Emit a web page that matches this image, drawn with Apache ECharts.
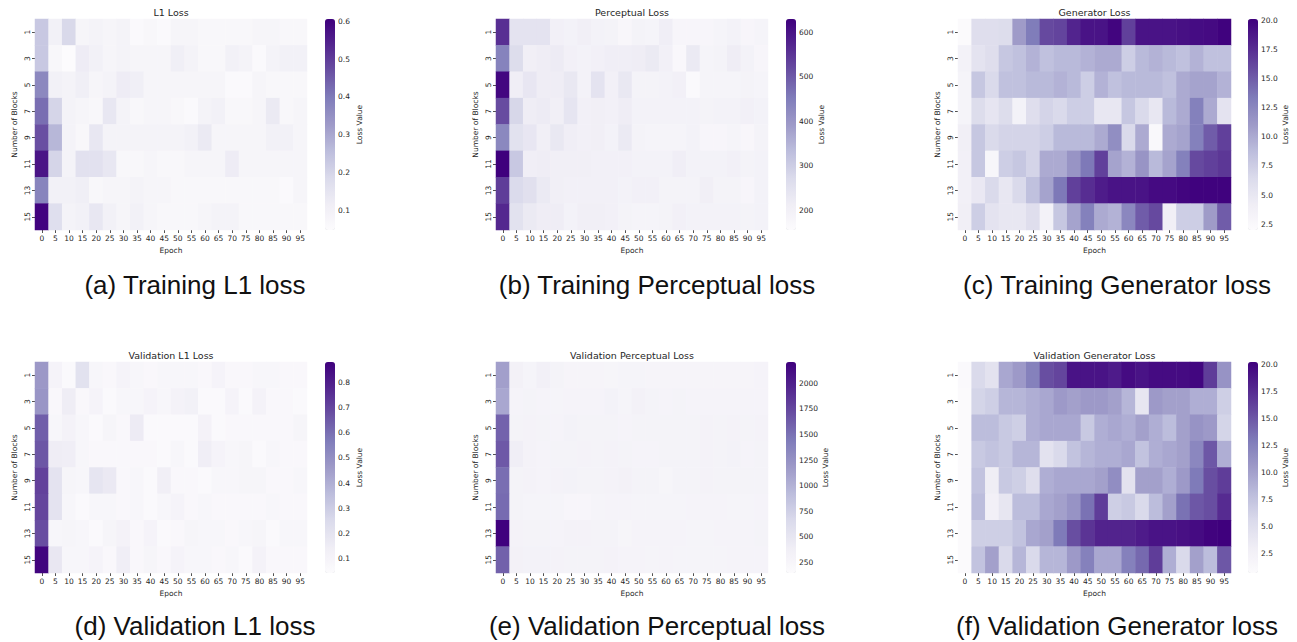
<!DOCTYPE html>
<html>
<head>
<meta charset="utf-8">
<script src="https://cdn.jsdelivr.net/npm/echarts@6/dist/echarts.min.js"></script>
<style>
html,body{margin:0;padding:0;background:#fff;}
#chart{width:1297px;height:642px;}
</style>
</head>
<body>
<div id="chart"></div>
<script>
// ---------------- DATA ----------------
const epochs = ['0','5','10','15','20','25','30','35','40','45','50','55','60','65','70','75','80','85','90','95'];
const blocks = ['1','3','5','7','9','11','13','15'];

const trainL1 = [
 [0.23,0.10,0.19,0.08,0.09,0.08,0.09,0.06,0.07,0.06,0.08,0.08,0.07,0.07,0.07,0.07,0.08,0.08,0.07,0.07],
 [0.23,0.07,0.05,0.12,0.10,0.08,0.09,0.08,0.08,0.08,0.11,0.09,0.07,0.07,0.10,0.09,0.06,0.09,0.10,0.10],
 [0.37,0.10,0.09,0.11,0.08,0.09,0.12,0.11,0.08,0.08,0.08,0.08,0.08,0.08,0.06,0.06,0.08,0.07,0.07,0.07],
 [0.42,0.20,0.09,0.08,0.07,0.14,0.09,0.07,0.08,0.08,0.07,0.06,0.09,0.10,0.07,0.07,0.08,0.13,0.07,0.08],
 [0.47,0.27,0.09,0.07,0.14,0.09,0.09,0.09,0.09,0.09,0.09,0.10,0.13,0.08,0.08,0.08,0.08,0.10,0.10,0.08],
 [0.57,0.20,0.09,0.16,0.16,0.14,0.07,0.07,0.08,0.07,0.07,0.08,0.08,0.08,0.12,0.08,0.08,0.08,0.08,0.08],
 [0.38,0.10,0.10,0.11,0.07,0.08,0.08,0.09,0.08,0.08,0.07,0.07,0.07,0.07,0.07,0.07,0.07,0.07,0.06,0.08],
 [0.60,0.17,0.09,0.10,0.14,0.10,0.08,0.10,0.08,0.07,0.07,0.07,0.08,0.09,0.09,0.07,0.07,0.07,0.07,0.07]
];
const trainPerc = [
 [560,245,245,245,200,195,205,195,190,175,190,185,210,180,180,180,185,195,180,185],
 [440,265,205,215,220,200,195,200,210,210,215,225,200,170,225,185,190,215,195,180],
 [620,210,235,215,215,230,195,245,200,230,190,190,195,200,165,185,185,185,190,185],
 [520,280,215,220,205,240,200,205,200,215,195,195,195,195,195,190,195,195,200,195],
 [430,250,235,205,230,210,200,205,195,225,190,185,185,185,195,180,180,185,175,190],
 [630,310,210,215,205,205,205,200,200,200,195,195,195,210,195,195,195,200,190,195],
 [540,270,255,225,205,200,200,200,200,195,200,200,190,190,190,205,190,190,180,195],
 [570,250,225,215,215,195,205,205,200,190,185,185,190,200,195,195,195,195,190,195]
];
const trainGen = [
 [2.2,6.0,6.0,6.2,11.0,13.3,16.0,16.3,18.0,19.0,19.0,19.8,16.5,19.0,19.0,19.0,19.2,19.4,19.5,20.0],
 [3.5,5.5,6.0,8.0,8.5,9.5,8.5,9.0,9.0,9.5,10.0,10.0,7.5,9.0,9.5,9.0,8.5,9.5,8.5,8.5],
 [3.2,8.0,6.5,8.5,8.5,9.0,9.0,9.5,9.0,7.5,9.5,8.5,9.0,9.0,9.0,8.5,10.0,10.5,10.5,9.5],
 [3.2,6.2,5.2,6.2,3.5,6.0,7.0,6.5,7.5,7.5,5.0,5.0,8.0,6.5,5.0,9.0,10.0,13.0,10.0,5.5],
 [4.0,8.0,6.5,7.0,7.0,7.0,7.5,9.0,9.0,9.0,10.0,12.0,6.5,10.0,2.5,10.0,10.5,13.0,15.0,16.5],
 [3.8,8.0,2.8,7.5,8.0,7.0,10.0,10.0,11.5,13.5,16.5,10.5,9.5,11.5,9.0,10.5,13.0,16.0,16.5,17.0],
 [3.8,4.8,6.5,5.0,6.5,8.5,10.5,13.5,16.5,17.5,18.5,19.0,19.0,19.0,19.5,19.5,19.8,20.0,20.0,20.0],
 [4.0,7.5,5.5,5.0,5.0,6.0,3.5,8.0,10.5,13.0,10.0,9.5,12.5,15.0,16.0,4.0,7.5,7.5,11.0,15.0]
];
const valL1 = [
 [0.47,0.10,0.06,0.21,0.08,0.07,0.10,0.08,0.07,0.08,0.08,0.08,0.07,0.10,0.07,0.07,0.08,0.08,0.07,0.07],
 [0.48,0.07,0.15,0.07,0.10,0.06,0.08,0.08,0.10,0.08,0.11,0.12,0.06,0.06,0.10,0.06,0.11,0.07,0.07,0.06],
 [0.64,0.08,0.11,0.08,0.06,0.09,0.07,0.16,0.06,0.06,0.06,0.06,0.11,0.06,0.07,0.07,0.07,0.07,0.07,0.09],
 [0.66,0.15,0.14,0.08,0.07,0.07,0.07,0.07,0.07,0.06,0.08,0.06,0.14,0.10,0.08,0.09,0.06,0.08,0.07,0.07],
 [0.71,0.20,0.09,0.08,0.19,0.17,0.07,0.08,0.06,0.13,0.07,0.07,0.06,0.08,0.08,0.09,0.09,0.07,0.07,0.08],
 [0.70,0.20,0.08,0.06,0.08,0.08,0.07,0.08,0.06,0.08,0.10,0.07,0.08,0.07,0.07,0.07,0.07,0.08,0.07,0.07],
 [0.68,0.08,0.09,0.08,0.06,0.09,0.11,0.07,0.10,0.06,0.07,0.09,0.08,0.08,0.07,0.08,0.09,0.06,0.08,0.08],
 [0.87,0.18,0.08,0.08,0.10,0.07,0.14,0.07,0.09,0.07,0.10,0.08,0.08,0.07,0.08,0.06,0.11,0.07,0.07,0.07]
];
const valPerc = [
 [1140,330,280,350,300,270,270,270,260,280,280,270,270,270,270,270,270,270,270,290],
 [1080,290,300,290,280,290,290,290,320,280,330,300,290,300,290,290,290,290,290,290],
 [1590,300,310,300,290,320,300,300,300,290,300,300,300,300,300,310,300,310,300,310],
 [1650,380,310,290,300,300,310,300,310,300,290,290,300,300,300,310,300,320,290,300],
 [1520,300,310,290,310,320,300,300,310,330,300,300,260,300,300,310,300,300,300,300],
 [1540,300,280,280,280,250,250,280,290,290,280,280,280,280,290,290,290,280,280,290],
 [2200,310,300,300,290,310,310,300,300,260,290,290,290,290,280,280,290,290,290,300],
 [1600,330,320,320,310,300,300,300,310,290,290,280,290,280,280,280,280,290,290,290]
];
const valGen = [
 [1.0,5.5,4.5,9.5,10.5,12.5,15.5,16.0,19.0,19.0,19.0,18.5,19.5,19.0,19.5,19.5,19.5,19.8,16.5,11.0],
 [0.9,6.0,6.5,8.5,8.5,9.0,9.5,10.5,10.0,10.5,10.5,10.0,8.5,4.0,10.5,10.0,10.0,9.0,9.0,6.5],
 [0.9,8.0,8.0,7.0,6.5,9.0,9.5,9.5,9.5,7.0,9.0,9.5,9.0,10.0,9.0,8.0,10.0,11.0,10.5,6.0],
 [0.9,7.0,7.5,7.0,8.5,8.5,4.5,5.5,7.5,8.5,9.0,9.0,9.5,7.5,9.0,9.5,10.0,12.0,15.0,9.0],
 [0.9,7.5,3.0,7.0,6.5,5.0,9.0,9.5,9.5,9.5,10.0,11.5,4.5,10.0,10.0,9.0,10.5,13.0,15.5,16.5],
 [0.9,8.0,2.5,4.0,8.0,8.0,9.5,10.0,11.0,13.5,16.5,6.5,7.0,5.5,8.0,10.0,13.5,15.0,15.5,17.5],
 [0.9,6.5,6.5,6.5,7.5,9.5,10.0,13.0,15.5,17.0,18.0,18.0,18.0,18.5,19.0,19.0,19.2,19.5,20.0,20.2],
 [0.9,7.5,10.0,5.5,8.5,5.5,8.5,8.5,10.5,12.5,9.5,9.5,12.5,14.0,16.5,9.0,5.5,10.0,8.0,15.0]
];

// colour-scale ranges (vmin, vmax)
const trainL1Range = [0.048, 0.606];
const trainPercRange = [155, 630];
const trainGenRange = [2.0, 20.1];
const valL1Range = [0.043, 0.88];
const valPercRange = [146, 2208];
const valGenRange = [0.65, 20.2];

// colour-bar tick labels
const trainL1Ticks = [0.1, 0.2, 0.3, 0.4, 0.5, 0.6];
const trainPercTicks = [200, 300, 400, 500, 600];
const trainGenTicks = [2.5, 5.0, 7.5, 10.0, 12.5, 15.0, 17.5, 20.0];
const valL1Ticks = [0.1, 0.2, 0.3, 0.4, 0.5, 0.6, 0.7, 0.8];
const valPercTicks = [250, 500, 750, 1000, 1250, 1500, 1750, 2000];
const valGenTicks = [2.5, 5.0, 7.5, 10.0, 12.5, 15.0, 17.5, 20.0];

const panelTitles = ['L1 Loss','Perceptual Loss','Generator Loss','Validation L1 Loss','Validation Perceptual Loss','Validation Generator Loss'];
const captions = ['(a) Training L1 loss','(b) Training Perceptual loss','(c) Training Generator loss','(d) Validation L1 loss','(e) Validation Perceptual loss','(f) Validation Generator loss'];

// ---------------- LAYOUT ----------------
const purples = ['#fcfbfd','#efedf5','#dadaeb','#bcbddc','#9e9ac8','#807dba','#6a51a3','#54278f','#3f007d'];
const panels = [
  {data: trainL1, range: trainL1Range, ticks: trainL1Ticks, dec: 1},
  {data: trainPerc, range: trainPercRange, ticks: trainPercTicks, dec: 0},
  {data: trainGen, range: trainGenRange, ticks: trainGenTicks, dec: 1},
  {data: valL1, range: valL1Range, ticks: valL1Ticks, dec: 1},
  {data: valPerc, range: valPercRange, ticks: valPercTicks, dec: 0},
  {data: valGen, range: valGenRange, ticks: valGenTicks, dec: 1}
];
const gridLefts = [35, 496, 958];
const gridWidths = [272, 272, 273];
const cbLefts = [325, 786, 1248];
const rowTops = [19, 362];
const H = 211;
const captionY = [285, 626];
const captionX = [195, 657, 1117];

const FONT = 'DejaVu Sans';
const TXT = '#262626';

const grid = [], xAxis = [], yAxis = [], series = [], visualMap = [], graphic = [];

panels.forEach((p, i) => {
  const col = i % 3, row = Math.floor(i / 3);
  const gl = gridLefts[col], gw = gridWidths[col], gt = rowTops[row];
  grid.push({left: gl, top: gt, width: gw, height: H, containLabel: false});
  xAxis.push({
    type: 'category', gridIndex: 2 * i, data: epochs,
    name: 'Epoch', nameLocation: 'middle', nameGap: 16,
    nameTextStyle: {fontFamily: FONT, fontSize: 7.5, color: TXT},
    axisLine: {show: false}, splitLine: {show: false}, splitArea: {show: false},
    axisTick: {show: true, alignWithLabel: true, length: 3, lineStyle: {color: TXT, width: 0.8}},
    axisLabel: {interval: 0, fontFamily: FONT, fontSize: 7.5, color: TXT, margin: 4}
  });
  yAxis.push({
    type: 'category', gridIndex: 2 * i, data: blocks, inverse: true,
    name: 'Number of Blocks', nameLocation: 'middle', nameGap: 17,
    nameTextStyle: {fontFamily: FONT, fontSize: 7.5, color: TXT},
    axisLine: {show: false}, splitLine: {show: false}, splitArea: {show: false},
    axisTick: {show: true, alignWithLabel: true, length: 3, lineStyle: {color: TXT, width: 0.8}},
    axisLabel: {interval: 0, rotate: 90, fontFamily: FONT, fontSize: 7.5, color: TXT, margin: 4}
  });
  grid.push({left: cbLefts[col], top: gt, width: 10, height: H, containLabel: false});
  xAxis.push({type: 'value', gridIndex: 2 * i + 1, show: false, min: 0, max: 1});
  yAxis.push({
    type: 'value', gridIndex: 2 * i + 1, position: 'right',
    min: p.range[0], max: p.range[1],
    name: 'Loss Value', nameLocation: 'middle', nameGap: 20, nameRotate: 90,
    nameTextStyle: {fontFamily: FONT, fontSize: 7.5, color: TXT},
    axisLine: {show: false}, splitLine: {show: false},
    axisTick: {show: true, inside: false, length: 3, customValues: p.ticks, lineStyle: {color: TXT, width: 0.8}},
    axisLabel: {show: true, customValues: p.ticks, fontFamily: FONT, fontSize: 7.5, color: TXT, margin: 3,
      formatter: v => Number(v).toFixed(p.dec)}
  });
  const d = [];
  p.data.forEach((r, yi) => r.forEach((v, xi) => d.push([xi, yi, v])));
  series.push({
    type: 'heatmap', xAxisIndex: 2 * i, yAxisIndex: 2 * i, data: d,
    itemStyle: {borderWidth: 0}, emphasis: {disabled: true}, progressive: 0
  });
  visualMap.push({
    type: 'continuous', seriesIndex: i, min: p.range[0], max: p.range[1],
    calculable: false, realtime: false, hoverLink: false,
    left: cbLefts[col], top: gt, itemWidth: 10, itemHeight: H, padding: 0,
    orient: 'vertical', text: null, showLabel: false,
    inRange: {color: purples}
  });
  graphic.push({
    type: 'text', x: gl + gw / 2, y: gt - 7,
    style: {text: panelTitles[i], fontFamily: FONT, fontSize: 9.5, fill: TXT, textAlign: 'center', textVerticalAlign: 'middle'}
  });
  graphic.push({
    type: 'text', x: captionX[col], y: captionY[row],
    style: {text: captions[i], fontFamily: 'Liberation Sans', fontSize: 26, fill: '#111', textAlign: 'center', textVerticalAlign: 'middle'}
  });
});

const chart = echarts.init(document.getElementById('chart'), null, {renderer: 'svg'});
chart.setOption({
  animation: false,
  backgroundColor: '#ffffff',
  grid, xAxis, yAxis, series, visualMap, graphic
});
</script>
</body>
</html>
